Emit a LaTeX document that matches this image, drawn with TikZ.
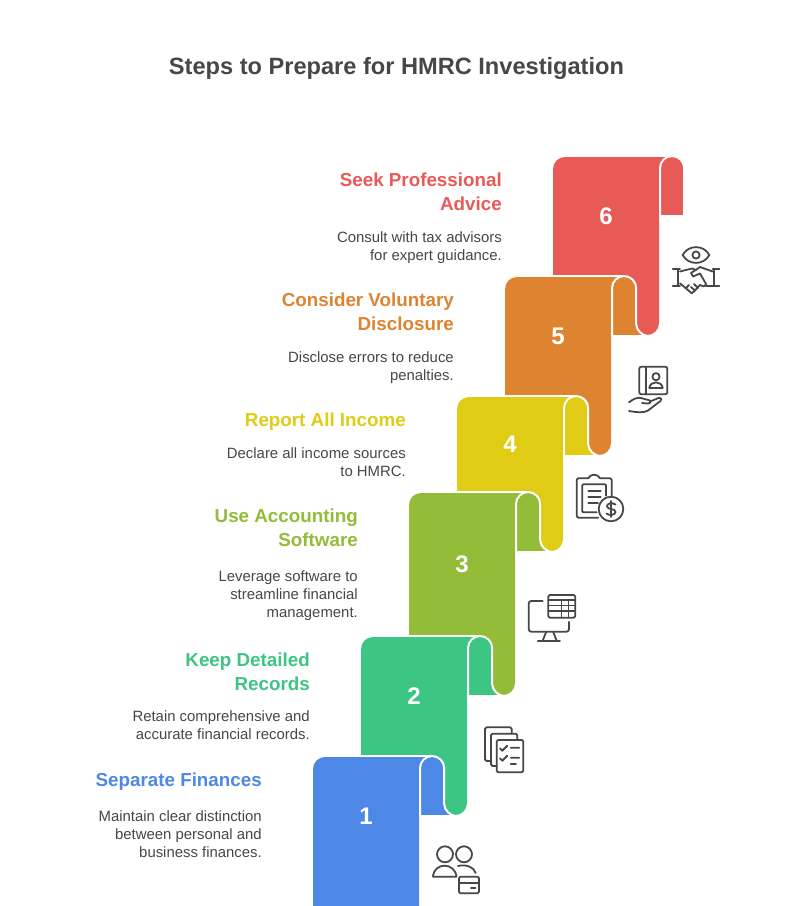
\documentclass[tikz,border=0pt]{standalone}
\usepackage{fontspec}
\setmainfont{Liberation Sans}
\definecolor{step one}{HTML}{4E88E7}
\definecolor{step two}{HTML}{3CC583}
\definecolor{step three}{HTML}{93BC39}
\definecolor{step four}{HTML}{E0CB15}
\definecolor{step five}{HTML}{DE8431}
\definecolor{step six}{HTML}{E85A56}
\colorlet{ink}{black!72}
% left, top, bottom of the body, bottom of the flap, radius at the flap foot, colour
\newcommand{\ribbon}[6]{
    \fill[#6, rounded corners=12pt] (#1,#2+1) rectangle (#1+106,#3);
    \fill[#6] (#1+90,#2+1) rectangle (#1+119,#2+14);
    \draw[ribbon edge] (#1+12,#2) -- (#1+119,#2);
    \filldraw[ribbon edge, fill=#6]
        (#1+107,#4) [rounded corners=12.2pt] -- (#1+107,#2) -- (#1+131.2,#2)
        [sharp corners] -- (#1+131.2,#4-#5)
        .. controls (#1+131.2,#4-#5*0.45) and (#1+131.2+#5*0.55,#4) .. (#1+131.2+#5,#4) -- cycle;
}
\tikzset{
    ribbon edge/.style={draw=white, line width=2pt},
    heading/.style={font=\fontsize{18.8}{24}\selectfont\bfseries, anchor=north east, align=right, inner sep=0pt, execute at begin node=\strut},
    blurb/.style={font=\fontsize{14.9}{18}\selectfont, text=ink, anchor=north east, align=right, inner sep=0pt, execute at begin node=\strut},
    number/.style={font=\fontsize{24}{24}\selectfont\bfseries, text=white},
    icon/.style={draw=ink, line width=1.8pt, line cap=round, line join=round}
}
\begin{document}
\begin{tikzpicture}[x=1pt, y=-1pt]
    \clip (0,0) rectangle (793,906);
    \fill[white] (0,0) rectangle (793,906);
    \node[font=\fontsize{23.6}{30}\selectfont\bfseries, text=ink] (title) at (396.5,68) {Steps to Prepare for HMRC Investigation};

    \ribbon{553}{156}{335}{216}{0}{step six}
    \node[number] (num6) at (606,216) {6};
    \ribbon{505}{276}{455}{336}{12}{step five}
    \node[number] (num5) at (558,336) {5};
    \ribbon{457}{396}{551}{456}{12}{step four}
    \node[number] (num4) at (510,444) {4};
    \ribbon{409}{492}{695}{552}{12}{step three}
    \node[number] (num3) at (462,564) {3};
    \ribbon{361}{636}{815}{696}{12}{step two}
    \node[number] (num2) at (414,696) {2};
    \ribbon{313}{756}{930}{816}{12}{step one}
    \node[number] (num1) at (366,816) {1};

    \node[heading, text=step six] (head6) at (502,172.2) {Seek Professional\\Advice};
    \node[blurb] (blurb6) at (502,231.4) {Consult with tax advisors\\for expert guidance.};
    \node[heading, text=step five] (head5) at (454,292.2) {Consider Voluntary\\Disclosure};
    \node[blurb] (blurb5) at (454,351.4) {Disclose errors to reduce\\penalties.};
    \node[heading, text=step four] (head4) at (406,409.2) {Report All Income};
    \node[blurb] (blurb4) at (406,447.4) {Declare all income sources\\to HMRC.};
    \node[heading, text=step three] (head3) at (358,508.2) {Use Accounting\\Software};
    \node[blurb] (blurb3) at (358,570.4) {Leverage software to\\streamline financial\\management.};
    \node[heading, text=step two] (head2) at (310,652.2) {Keep Detailed\\Records};
    \node[blurb] (blurb2) at (310,710.4) {Retain comprehensive and\\accurate financial records.};
    \node[heading, text=step one] (head1) at (262,769.2) {Separate Finances};
    \node[blurb] (blurb1) at (262,810.4) {Maintain clear distinction\\between personal and\\business finances.};

    % people and card
    \draw[icon] (445,854.3) circle (8) (464,854.3) circle (8);
    \draw[icon] (433,876.7) .. controls (434,862) and (455,862) .. (456.5,876.7) (433,876.7) -- (456,876.7);
    \draw[icon] (458,866) .. controls (466,864) and (474,867) .. (475.7,873);
    \draw[icon, rounded corners=1.5pt] (459,876.7) rectangle (479,893.3);
    \draw[icon] (459,882.7) -- (479,882.7) (471,888.3) -- (475.5,888.3);

    % stacked checklists
    \draw[icon, rounded corners=1.5pt] (491,761) -- (485,761) -- (485,727.3) -- (511.7,727.3) -- (511.7,733.7);
    \draw[icon, rounded corners=1.5pt] (496.7,766) -- (491,766) -- (491,733.7) -- (517.3,733.7) -- (517.3,740);
    \draw[icon, rounded corners=1.5pt] (496.7,740) rectangle (523.3,772.3);
    \draw[icon] (500,748.3) -- (502.3,750.7) -- (507.3,745.7) (510.7,747.7) -- (519.3,747.7);
    \draw[icon] (500,758.3) -- (502.3,760.7) -- (507.3,755.7) (510.7,757.7) -- (519.3,757.7);
    \draw[icon] (510.7,763.7) -- (516,763.7);

    % monitor and table
    \draw[icon, rounded corners=1.5pt] (548.3,595) rectangle (575.3,617.7);
    \draw[icon, line width=1.3pt] (548.3,600) -- (575.3,600) (548.3,605.7) -- (575.3,605.7) (548.3,611) -- (575.3,611);
    \draw[icon, line width=1.3pt] (561.7,600) -- (561.7,617.7) (568.3,600) -- (568.3,617.7);
    \draw[icon, rounded corners=2.5pt] (542.7,601) -- (528.7,601) -- (528.7,631.7) -- (569,631.7) -- (569,621.7);
    \draw[icon] (546,632.3) -- (542.7,640.7) (553.3,632.3) -- (556.7,640.7) (537.7,641) -- (560,641);

    % clipboard and coin
    \draw[icon, rounded corners=1.5pt] (611.7,495.7) -- (611.7,478.3) -- (600,478.3);
    \draw[icon] (600,478.3) .. controls (598,473.5) and (590,473.5) .. (588.3,478.3);
    \draw[icon, rounded corners=1.5pt] (588.3,478.3) -- (576.7,478.3) -- (576.7,517.7) -- (598.3,517.7);
    \draw[icon, rounded corners=1pt] (606,495.7) -- (606,484.3) -- (582.3,484.3) -- (582.3,512.3) -- (596.7,512.3);
    \draw[icon] (588.3,490.7) -- (600.7,490.7) (588.3,496.7) -- (600.7,496.7) (588.3,502.7) -- (598,502.7);
    \draw[icon] (611,509) circle (12.3);
    \draw[icon] (611,501) -- (611,517);
    \draw[icon] (615.5,504.5) .. controls (612,502) and (606.5,503.5) .. (607,506.5) .. controls (607.5,510) and (615.5,508) .. (615.5,512) .. controls (615.5,515) and (609,516) .. (606.5,513.5);

    % contact book on a hand
    \draw[icon, rounded corners=2pt] (639.3,366.7) rectangle (667.3,394.3);
    \draw[icon] (646,366.7) -- (646,394.3);
    \draw[icon] (656,376.7) circle (3.6);
    \draw[icon] (649.3,388) .. controls (650,380.5) and (662,380.5) .. (662.7,388) -- cycle;
    \draw[icon] (629,402.3) .. controls (633,399) and (638,397) .. (641,398) -- (650,400.5) .. controls (651.5,402.5) and (650,403.5) .. (648,403.5) -- (642,403);
    \draw[icon] (650,401.5) -- (659,397.8) .. controls (661.5,397.5) and (662,399.5) .. (660.5,401) -- (648,410.5) .. controls (644,413) and (638,412.5) .. (629,411);

    % eye over a handshake
    \draw[icon] (682.7,255) .. controls (688,244.5) and (704,244.5) .. (709.3,255) .. controls (704,265.5) and (688,265.5) .. (682.7,255) -- cycle;
    \draw[icon] (696,255) circle (3.6);
    \draw[icon] (672.7,269.3) -- (680,269.3) (678.3,269.3) -- (678.3,286) (672.7,286) -- (680,286);
    \draw[icon] (712.7,269.3) -- (719.3,269.3) (714.3,269.3) -- (714.3,286) (712.7,286) -- (719.3,286);
    \draw[icon] (680,271.5) -- (692,268.5) -- (696,270);
    \draw[icon] (712.7,271.5) -- (700,267) -- (691,273) -- (693,276.5) -- (700,273.5) -- (706,284) .. controls (705,287) and (702,287) .. (700,285);
    \draw[icon] (706,285.7) -- (712.7,285.7);
    \draw[icon] (680,283.3) -- (691.7,293.3) -- (695,290.5) -- (700,285);
    \draw[icon] (686,288) -- (689,285) (695,290.5) -- (691,287) (698,288) -- (694,284);
\end{tikzpicture}
\end{document}
